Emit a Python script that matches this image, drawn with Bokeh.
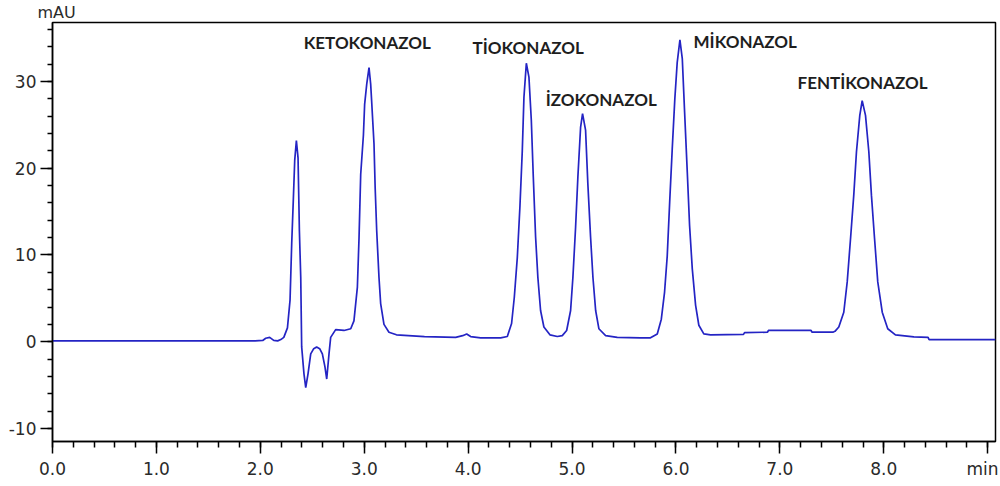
from bokeh.plotting import figure
from bokeh.models import FixedTicker, Range1d, Title
from bokeh.core.properties import value
from bokeh.embed import file_html
from bokeh.resources import INLINE

# ---- data (time in min, signal in mAU) ----
TIME = [0.000, 1.950, 2.023, 2.052, 2.090, 2.129, 2.167, 2.197, 2.226, 2.261,
        2.286, 2.302, 2.318, 2.331, 2.347, 2.363, 2.376, 2.389, 2.398, 2.420,
        2.437, 2.459, 2.485, 2.514, 2.542, 2.571, 2.597, 2.622, 2.639, 2.661,
        2.677, 2.725, 2.805, 2.870, 2.901, 2.934, 2.950, 2.966, 2.992, 3.004,
        3.024, 3.046, 3.062, 3.071, 3.094, 3.105, 3.120, 3.142, 3.158, 3.190,
        3.238, 3.310, 3.580, 3.880, 3.947, 3.986, 4.024, 4.120, 4.313, 4.377,
        4.418, 4.444, 4.473, 4.498, 4.521, 4.537, 4.560, 4.585, 4.608, 4.627,
        4.649, 4.671, 4.697, 4.729, 4.787, 4.858, 4.906, 4.948, 4.986, 5.008,
        5.034, 5.056, 5.082, 5.101, 5.130, 5.152, 5.178, 5.201, 5.227, 5.258,
        5.323, 5.435, 5.659, 5.755, 5.820, 5.859, 5.890, 5.916, 5.941, 5.964,
        5.989, 6.012, 6.038, 6.061, 6.083, 6.109, 6.131, 6.157, 6.189, 6.220,
        6.268, 6.333, 6.650, 6.660, 6.880, 6.890, 7.300, 7.310, 7.510, 7.530,
        7.567, 7.615, 7.648, 7.680, 7.711, 7.737, 7.769, 7.792, 7.824, 7.856,
        7.881, 7.911, 7.942, 7.985, 8.038, 8.112, 8.289, 8.426, 8.436, 9.075]
SIGNAL = [0.10, 0.10, 0.15, 0.40, 0.50, 0.15, 0.10, 0.25, 0.50, 1.6,
          4.8, 11.3, 16.5, 20.9, 23.2, 21.2, 12.8, 7.4, -0.6, -3.7,
          -5.3, -3.7, -1.4, -0.8, -0.6, -0.8, -1.4, -2.9, -4.3, -1.4,
          0.5, 1.4, 1.3, 1.5, 2.4, 6.3, 12.0, 19.3, 23.8, 27.4,
          29.7, 31.6, 29.7, 27.8, 22.8, 17.8, 12.8, 7.4, 4.4, 2.0,
          1.1, 0.8, 0.6, 0.5, 0.7, 0.9, 0.6, 0.45, 0.45, 0.6,
          2.1, 5.1, 9.7, 15.5, 22.0, 28.2, 32.1, 30.5, 25.5, 19.0,
          12.1, 7.4, 3.6, 1.7, 0.8, 0.6, 0.7, 1.3, 3.6, 7.4,
          13.2, 19.0, 24.7, 26.3, 24.4, 18.2, 12.1, 7.4, 3.6, 1.5,
          0.7, 0.5, 0.45, 0.45, 0.9, 2.6, 5.7, 9.9, 16.5, 22.2,
          28.0, 32.2, 34.8, 32.6, 26.5, 19.5, 13.4, 8.4, 4.2, 1.9,
          0.9, 0.8, 0.85, 1.05, 1.1, 1.3, 1.3, 1.1, 1.1, 1.2,
          1.7, 3.4, 6.9, 11.9, 16.9, 21.9, 26.1, 27.8, 26.1, 21.9,
          16.9, 11.9, 6.9, 3.4, 1.5, 0.8, 0.55, 0.5, 0.25, 0.25]

PEAK_NAMES = ["KETOKONAZOL", "TİOKONAZOL", "İZOKONAZOL", "MİKONAZOL", "FENTİKONAZOL"]

X_TICKS = [0, 1, 2, 3, 4, 5, 6, 7, 8, 9]
X_TICK_LABELS = ["0.0", "1.0", "2.0", "3.0", "4.0", "5.0", "6.0", "7.0", "8.0", "min"]
Y_TICKS = [-10, 0, 10, 20, 30]
Y_TICK_LABELS = ["-10", "0", "10", "20", "30"]
Y_UNIT = "mAU"

# ---- layout (label anchors: left edge / baseline, in data units) ----
LABEL_X = [2.417, 4.043, 4.746, 6.169, 7.170]
LABEL_Y = [34.53, 33.88, 27.89, 34.61, 29.92]

X_MIN, X_MAX = 0.0, 9.075
Y_MIN, Y_MAX = -11.5, 36.8

p = figure(width=998, height=484,
           x_range=Range1d(X_MIN, X_MAX), y_range=Range1d(Y_MIN, Y_MAX),
           output_backend="svg", toolbar_location=None,
           min_border_left=52, min_border_right=3,
           min_border_top=22, min_border_bottom=43)
p.grid.visible = False
p.background_fill_color = "white"
p.border_fill_color = "white"
p.outline_line_color = "black"
p.outline_line_width = 1.5
p.outline_line_alpha = 1.0

p.line(TIME, SIGNAL, line_color="#2424c4", line_width=1.7)

x_minor = [round(i * 0.2, 3) for i in range(0, 46)]
y_minor = list(range(-10, 37, 2))
p.xaxis.ticker = FixedTicker(ticks=X_TICKS, minor_ticks=x_minor)
p.yaxis.ticker = FixedTicker(ticks=Y_TICKS, minor_ticks=y_minor)
p.xaxis.major_label_overrides = {t: l for t, l in zip(X_TICKS, X_TICK_LABELS)}
p.yaxis.major_label_overrides = {t: l for t, l in zip(Y_TICKS, Y_TICK_LABELS)}

for ax in (p.xaxis[0], p.yaxis[0]):
    ax.axis_line_color = "black"
    ax.axis_line_width = 1.5
    ax.major_tick_line_color = "black"
    ax.major_tick_line_width = 1.5
    ax.minor_tick_line_color = "black"
    ax.minor_tick_line_width = 1.5
    ax.major_tick_in = 0
    ax.minor_tick_in = 0
    ax.major_tick_out = 12
    ax.minor_tick_out = 6
    ax.major_label_text_font = "DejaVu Sans"
    ax.major_label_text_font_size = "17px"
    ax.major_label_text_color = "#2a2a2a"
p.xaxis.major_label_standoff = 5
p.yaxis.major_label_standoff = 4
p.yaxis.minor_tick_out = 5

# unit of the y axis, above the top-left corner
p.add_layout(Title(text=Y_UNIT, align="left", offset=-15, standoff=1,
                   text_font="DejaVu Sans", text_font_size="16px",
                   text_font_style="normal", text_color="#2a2a2a"), "above")

p.text(x=LABEL_X, y=LABEL_Y, text=PEAK_NAMES, text_font=value("Lato"),
       text_font_style="bold", text_font_size="17px", text_color="#1e1e1e",
       text_align="left", text_baseline="alphabetic")

open("out.html", "w").write(file_html(p, INLINE))
